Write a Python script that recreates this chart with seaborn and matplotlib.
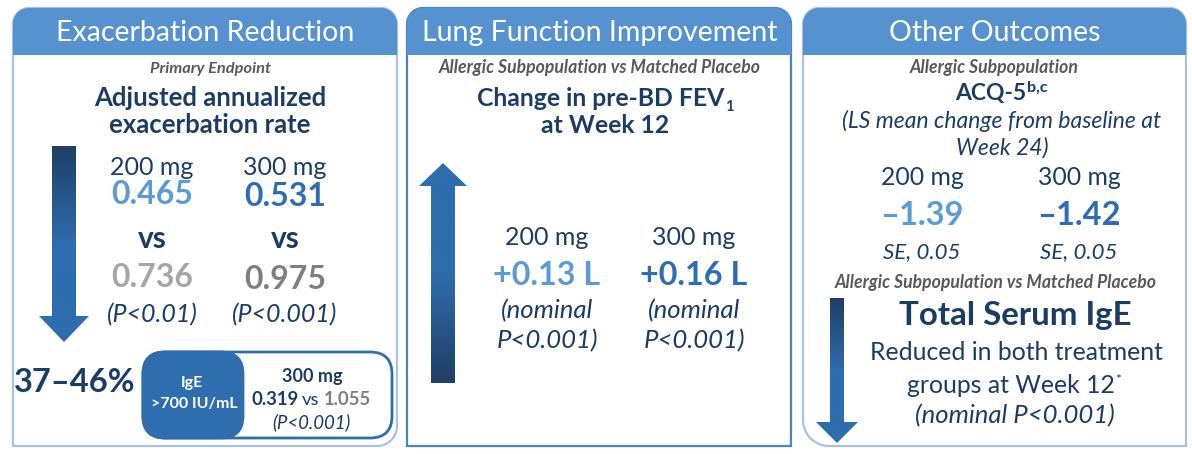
import matplotlib
matplotlib.use("Agg")
import numpy as np
import matplotlib.pyplot as plt
from matplotlib.patches import Polygon, FancyBboxPatch
import seaborn as sns

# values
panel_titles = ["Exacerbation Reduction", "Lung Function Improvement", "Other Outcomes"]
doses = ["200 mg", "300 mg"]
exac_rate = [0.465, 0.531]          # annualized exacerbation rate, active
exac_placebo = [0.736, 0.975]       # matched placebo
exac_p = ["(P<0.01)", "(P<0.001)"]
reduction = (37, 46)                # % reduction range
ige_rates = [0.319, 1.055]          # IgE >700 IU/mL, 300 mg vs placebo
fev1_change = [0.13, 0.16]          # L
fev1_p = ["(nominal", "P<0.001)"]
acq5_change = [-1.39, -1.42]
acq5_se = [0.05, 0.05]

NAVY = "#1B3D65"
LIGHT = "#5B9BD5"
MID = "#2E6DB4"
GRAY_L = "#A6A6A6"
GRAY_D = "#7F7F7F"
SUB = "#595959"
HEADER = "#5592CF"
DARK_ARROW = "#1F3F66"
MID_ARROW = "#2E6DAE"

sns.set_theme(style="white")
plt.rcParams["font.family"] = ["Lato", "DejaVu Sans"]

fig = plt.figure(figsize=(11.92, 4.54), dpi=100)
ax = fig.add_axes([0, 0, 1, 1])
ax.set_xlim(0, 1192)
ax.set_ylim(454, 0)
ax.axis("off")
renderer = fig.canvas.get_renderer()


def rounded_poly(x0, y0, x1, y1, r):
    # r = radii for (top-left, top-right, bottom-right, bottom-left), y grows downward
    pts = []
    corners = [(x0, y0, 1, 1, 180), (x1, y0, -1, 1, 270),
               (x1, y1, -1, -1, 0), (x0, y1, 1, -1, 90)]
    for (cx, cy, sx, sy, a0), rad in zip(corners, r):
        if rad == 0:
            pts.append((cx, cy))
            continue
        ccx, ccy = cx + sx * rad, cy + sy * rad
        th = np.radians(np.linspace(a0, a0 + 90, 14))
        pts += list(zip(ccx + rad * np.cos(th), ccy + rad * np.sin(th)))
    return np.array(pts)


def panel(x0, x1, bottom_r, edge):
    body = Polygon(rounded_poly(x0, 8, x1, 446, [16, 16] + bottom_r), closed=True,
                   facecolor="white", edgecolor=edge, lw=1.6, zorder=1)
    ax.add_patch(body)
    head = Polygon(rounded_poly(x0, 8, x1, 55, [16, 16, 0, 0]), closed=True,
                   facecolor=HEADER, edgecolor="none", zorder=2)
    ax.add_patch(head)


def arrow(cx, y_tail, y_tip, shaft, head, head_len, c_tail, c_tip):
    d = 1 if y_tip > y_tail else -1
    yb = y_tip - d * head_len
    pts = [(cx - shaft, y_tail), (cx + shaft, y_tail), (cx + shaft, yb), (cx + head, yb),
           (cx, y_tip), (cx - head, yb), (cx - shaft, yb)]
    poly = Polygon(pts, closed=True, facecolor="none", edgecolor="none")
    ax.add_patch(poly)
    cmap = sns.blend_palette([c_tail, c_tip, c_tip], as_cmap=True)
    grad = np.linspace(0, 1, 256).reshape(-1, 1)
    top, bot = min(y_tail, y_tip), max(y_tail, y_tip)
    if d < 0:
        grad = grad[::-1]
    im = ax.imshow(grad, cmap=cmap, extent=(cx - head, cx + head, bot, top),
                   origin="upper", aspect="auto", zorder=3)
    im.set_clip_path(poly)


def txt(x, y, s, size, color=NAVY, weight="normal", style="normal", ha="center", **kw):
    return ax.text(x, y, s, fontsize=size, color=color, fontweight=weight,
                   fontstyle=style, ha=ha, va="baseline", zorder=5, **kw)


def rich(xc, y, parts, gap=0):
    # parts: (text, size, color, weight, style, dy)
    items = []
    for s, size, color, weight, style, dy in parts:
        t = txt(0, y + dy, s, size, color, weight, style, ha="left")
        w = t.get_window_extent(renderer).width
        items.append((t, w))
    total = sum(w for _, w in items) + gap * (len(items) - 1)
    x = xc - total / 2
    for t, w in items:
        t.set_x(x)
        x += w + gap


panel(13, 397, [20, 0], "#A9C2E4")
panel(407, 791, [0, 0], "#4A84C8")
panel(803, 1186, [0, 26], "#A9C2E4")

for xc, title in zip([205, 600, 995], panel_titles):
    txt(xc, 41, title, 20.5, "white")

# ---- Exacerbation reduction ----
txt(210, 73, "Primary Endpoint", 11.8, SUB, "bold", "italic")
txt(210, 106, "Adjusted annualized", 18.5, NAVY, "bold")
txt(210, 133, "exacerbation rate", 18.5, NAVY, "bold")
arrow(64, 146, 342, 12, 25, 26, DARK_ARROW, MID_ARROW)
dose_x = [152, 285]
for i, xc in enumerate(dose_x):
    txt(xc, 175, doses[i], 18, NAVY)
    txt(xc, 204 + 2 * i, f"{exac_rate[i]:.3f}", 23, [LIGHT, MID][i], "bold")
    txt(xc, 248, "vs", 21.5, NAVY, "bold")
    txt(xc, 287 + 2 * i, f"{exac_placebo[i]:.3f}", 23, [GRAY_L, GRAY_D][i], "bold")
    txt(xc, 322, exac_p[i], 18, NAVY, style="italic")
txt(75, 392, f"{reduction[0]}–{reduction[1]}%", 23.5, NAVY, "bold")
ax.add_patch(FancyBboxPatch((143, 352), 249, 86, boxstyle="round,pad=0,rounding_size=22",
                            facecolor="white", edgecolor=MID_ARROW, lw=2, zorder=3))
ax.add_patch(FancyBboxPatch((143, 352), 100, 86, boxstyle="round,pad=0,rounding_size=22",
                            facecolor=MID_ARROW, edgecolor=MID_ARROW, lw=2, zorder=4))
txt(192, 387, "IgE", 11.5, "white", "bold")
txt(194, 408, ">700 IU/mL", 11.5, "white", "bold")
txt(312, 382, doses[1], 13, NAVY, "bold")
rich(311, 405, [(f"{ige_rates[0]:.3f}", 13.3, NAVY, "bold", "normal", 0),
                ("vs", 13.3, NAVY, "normal", "normal", 0),
                (f"{ige_rates[1]:.3f}", 13.3, GRAY_D, "bold", "normal", 0)], gap=4)
txt(311, 428, "(P<0.001)", 13.4, NAVY, style="italic")

# ---- Lung function ----
txt(600, 73, "Allergic Subpopulation vs Matched Placebo", 12.7, SUB, "bold", "italic")
rich(605, 106, [("Change in pre-BD FEV", 17.8, NAVY, "bold", "normal", 0),
                ("1", 10.5, NAVY, "bold", "normal", 5)], gap=1)
txt(605, 133, "at Week 12", 17.8, NAVY, "bold")
arrow(443, 383, 163, 12, 24, 23, DARK_ARROW, MID_ARROW)
fev_x = [547, 694]
for i, xc in enumerate(fev_x):
    txt(xc, 245, doses[i], 18, NAVY)
    txt(xc, 285, f"+{fev1_change[i]:.2f} L", 23.3, [LIGHT, MID][i], "bold")
    txt(xc, 318, fev1_p[0], 18.5, NAVY, style="italic")
    txt(xc, 348, fev1_p[1], 18.5, NAVY, style="italic")

# ---- Other outcomes ----
txt(994, 73, "Allergic Subpopulation", 12.7, SUB, "bold", "italic")
rich(1001, 100, [("ACQ-5", 16.5, NAVY, "bold", "normal", 0),
                 ("b,c", 11.5, NAVY, "bold", "normal", -8)], gap=1)
txt(1002, 128, "(LS mean change from baseline at", 16.5, NAVY, style="italic")
txt(1002, 155, "Week 24)", 16.5, NAVY, style="italic")
acq_x = [922, 1079]
for i, xc in enumerate(acq_x):
    txt(xc, 185, doses[i], 17.8, NAVY)
    txt(xc, 225, f"–{abs(acq5_change[i]):.2f}", 23.5, [LIGHT, MID][i], "bold")
    txt(xc, 258, f"SE, {acq5_se[i]:.2f}", 16, NAVY, style="italic")
txt(996, 288, "Allergic Subpopulation vs Matched Placebo", 12.7, SUB, "bold", "italic")
arrow(837, 298, 443, 7, 21, 21, DARK_ARROW, MID_ARROW)
txt(1015, 325, "Total Serum IgE", 23.8, NAVY, "bold")
txt(1016, 360, "Reduced in both treatment", 17.8, NAVY)
rich(1014, 393, [("groups at Week 12", 17.8, NAVY, "normal", "normal", 0),
                 ("*", 10, NAVY, "normal", "normal", -9)], gap=1)
txt(1015, 423, "(nominal P<0.001)", 18.5, NAVY, style="italic")

ax.set_xlim(0, 1192)
ax.set_ylim(454, 0)
fig.savefig("out.png", dpi=100, facecolor="white")
